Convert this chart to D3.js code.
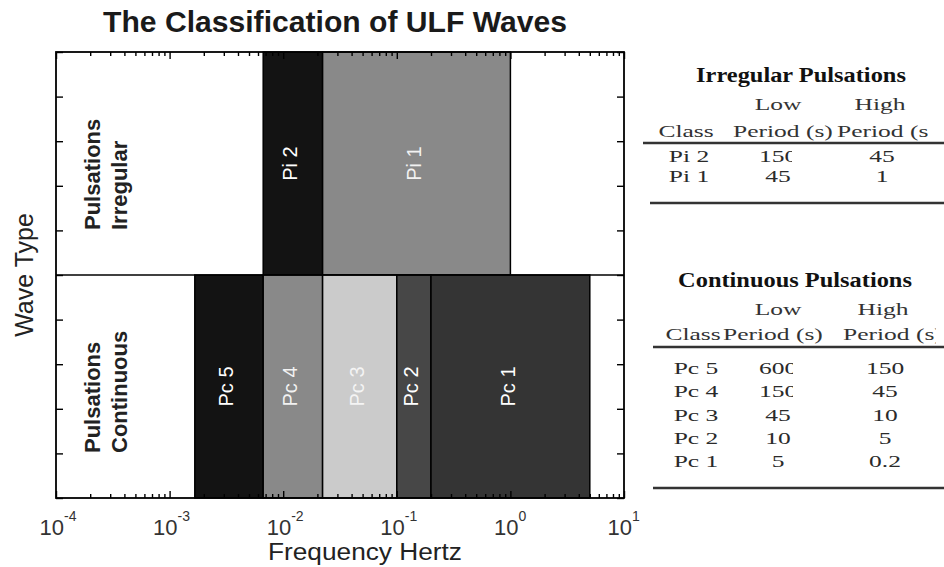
<!DOCTYPE html>
<html><head><meta charset="utf-8">
<script src="https://cdn.jsdelivr.net/npm/d3@7"></script>
<style>body{margin:0;background:#fff}svg{display:block}</style>
</head><body>
<svg id="c" width="944" height="567"></svg>
<script>
// ---------- data ----------
const irregularClasses = ["Pi 2", "Pi 1"];
const irregularLowPeriod = [150, 45];
const irregularHighPeriod = [45, 1];
const continuousClasses = ["Pc 5", "Pc 4", "Pc 3", "Pc 2", "Pc 1"];
const continuousLowPeriod = [600, 150, 45, 10, 5];
const continuousHighPeriod = [150, 45, 10, 5, 0.2];
const waveTypes = ["Continuous", "Irregular"];
const xTickExponents = [-4, -3, -2, -1, 0, 1];
const xDomain = [1e-4, 10];

// ---------- styles ----------
const classFill = d3.scaleOrdinal(
  ["Pi 2", "Pi 1", "Pc 5", "Pc 4", "Pc 3", "Pc 2", "Pc 1"],
  ["#131313", "#898989", "#131313", "#898989", "#cbcbcb", "#474747", "#343434"]);
const classLabel = d3.scaleOrdinal(
  ["Pi 2", "Pi 1", "Pc 5", "Pc 4", "Pc 3", "Pc 2", "Pc 1"],
  ["#ffffff", "#f2f2f2", "#ffffff", "#f2f2f2", "#f4f4f4", "#ffffff", "#ffffff"]);

const svg = d3.select("#c");
const SANS = "'Liberation Sans', Arial, sans-serif";
const SERIF = "'Liberation Serif', 'Times New Roman', serif";
const plot = {left: 56, right: 624, top: 52, bottom: 498};
const x = d3.scaleLog().domain(xDomain).range([plot.left, plot.right]);
const y = d3.scaleLinear().domain([0, 2]).range([plot.bottom, plot.top]);

const bars = [
  ...irregularClasses.map((c, i) => ({cls: c, band: 1, f0: 1 / irregularLowPeriod[i], f1: 1 / irregularHighPeriod[i]})),
  ...continuousClasses.map((c, i) => ({cls: c, band: 0, f0: 1 / continuousLowPeriod[i], f1: 1 / continuousHighPeriod[i]}))
];

svg.append("rect").attr("x", plot.left).attr("y", plot.top)
  .attr("width", plot.right - plot.left).attr("height", plot.bottom - plot.top).attr("fill", "#fff");

svg.append("g").selectAll("rect").data(bars).join("rect")
  .attr("x", d => x(d.f0)).attr("width", d => x(d.f1) - x(d.f0))
  .attr("y", d => y(d.band + 1)).attr("height", d => y(d.band) - y(d.band + 1))
  .attr("fill", d => classFill(d.cls)).attr("stroke", "#000").attr("stroke-width", 1.5);

svg.append("g").selectAll("text").data(bars).join("text")
  .attr("transform", d => `translate(${(x(d.f0) + x(d.f1)) / 2 - 3},${(y(d.band) + y(d.band + 1)) / 2}) rotate(-90)`)
  .attr("text-anchor", "middle").attr("dy", "0.36em")
  .attr("font-family", SANS).attr("font-size", 20).attr("fill", d => classLabel(d.cls))
  .text(d => d.cls);

// divider between bands
svg.append("line").attr("x1", plot.left).attr("x2", plot.right)
  .attr("y1", y(1)).attr("y2", y(1)).attr("stroke", "#000").attr("stroke-width", 1.5);

// band labels
const bandLabels = svg.append("g").selectAll("g").data(waveTypes).join("g")
  .attr("transform", (d, i) => `translate(0,${y(i) - 45})`);
bandLabels.append("text").attr("transform", "translate(100,0) rotate(-90)")
  .attr("font-family", SANS).attr("font-weight", "bold").attr("font-size", 22).attr("fill", "#222")
  .text("Pulsations");
bandLabels.append("text").attr("transform", "translate(127,0) rotate(-90)")
  .attr("font-family", SANS).attr("font-weight", "bold").attr("font-size", 22).attr("fill", "#222")
  .text(d => d);

// axes (inward ticks)
const major = xTickExponents.map(e => Math.pow(10, e));
const minor = [];
xTickExponents.slice(0, -1).forEach(e => { for (let k = 2; k <= 9; k++) minor.push(k * Math.pow(10, e)); });
function styleAxis(g) {
  g.select(".domain").remove();
  g.selectAll("line").attr("stroke", "#000").attr("stroke-width", 1.4);
}
svg.append("g").attr("transform", `translate(0,${plot.bottom})`)
  .call(d3.axisBottom(x).tickValues(major).tickSize(-7).tickFormat("")).call(styleAxis);
svg.append("g").attr("transform", `translate(0,${plot.bottom})`)
  .call(d3.axisBottom(x).tickValues(minor).tickSize(-4).tickFormat("")).call(styleAxis);
svg.append("g").attr("transform", `translate(0,${plot.top})`)
  .call(d3.axisTop(x).tickValues(major).tickSize(-7).tickFormat("")).call(styleAxis);
svg.append("g").attr("transform", `translate(0,${plot.top})`)
  .call(d3.axisTop(x).tickValues(minor).tickSize(-4).tickFormat("")).call(styleAxis);
svg.append("g").attr("transform", `translate(${plot.left},0)`)
  .call(d3.axisLeft(y).ticks(10).tickSize(-7).tickFormat("")).call(styleAxis);
svg.append("g").attr("transform", `translate(${plot.right},0)`)
  .call(d3.axisRight(y).ticks(10).tickSize(-7).tickFormat("")).call(styleAxis);

svg.append("rect").attr("x", plot.left).attr("y", plot.top)
  .attr("width", plot.right - plot.left).attr("height", plot.bottom - plot.top)
  .attr("fill", "none").attr("stroke", "#000").attr("stroke-width", 1.8);

// x tick labels 10^e
const tl = svg.append("g").selectAll("g").data(xTickExponents).join("g")
  .attr("transform", e => `translate(${x(Math.pow(10, e)) + 8},0)`);
tl.append("text").attr("y", 535).attr("text-anchor", "end")
  .attr("font-family", SANS).attr("font-size", 22).attr("fill", "#333").text("10");
tl.append("text").attr("y", 521).attr("text-anchor", "start")
  .attr("font-family", SANS).attr("font-size", 14).attr("fill", "#333").text(e => String(e));

// titles
svg.append("text").attr("x", 103).attr("y", 32)
  .attr("font-family", SANS).attr("font-weight", "bold").attr("font-size", 29).attr("fill", "#1a1a1a")
  .attr("textLength", 464).attr("lengthAdjust", "spacingAndGlyphs")
  .text("The Classification of ULF Waves");
svg.append("text").attr("x", 365).attr("y", 560).attr("text-anchor", "middle")
  .attr("font-family", SANS).attr("font-size", 23).attr("fill", "#222")
  .attr("textLength", 194).attr("lengthAdjust", "spacingAndGlyphs")
  .text("Frequency Hertz");
svg.append("text").attr("transform", `translate(33,${y(1)}) rotate(-90)`).attr("text-anchor", "middle")
  .attr("font-family", SANS).attr("font-size", 25).attr("fill", "#222")
  .text("Wave Type");

// ---------- tables ----------
const defs = svg.append("defs");
let clipId = 0;
function clipped(g, right) {
  const id = "clip" + (clipId++);
  defs.append("clipPath").attr("id", id).attr("clipPathUnits", "userSpaceOnUse")
    .append("rect").attr("x", 0).attr("y", 0).attr("width", right).attr("height", 567);
  return g.append("g").attr("clip-path", `url(#${id})`);
}
function stext(g, tx, ty, str, anchor, opts = {}) {
  return g.append("text")
    .attr("transform", `translate(${tx},${ty}) scale(${opts.sx || 1.5},1)`)
    .attr("text-anchor", anchor)
    .attr("font-family", SERIF).attr("font-size", opts.size || 17)
    .attr("font-weight", opts.bold ? "bold" : "normal")
    .attr("fill", opts.fill || "#2a2a2a").text(str);
}
function drawTable(t) {
  const g = svg.append("g");
  stext(g, t.titleX, t.titleY, t.title, "middle", {bold: true, size: 20, sx: 1.22, fill: "#111"});
  stext(g, t.lowX, t.headY, "Low", "middle", {fill: "#333"});
  stext(g, t.highX, t.headY, "High", "middle", {fill: "#333"});
  stext(g, t.classX, t.head2Y, "Class", "middle", {fill: "#333"});
  stext(clipped(g, t.periodLowClip), t.periodLowX, t.head2Y, "Period (s)", "start", {fill: "#333"});
  stext(clipped(g, t.periodHighClip), t.periodHighX, t.head2Y, "Period (s)", "start", {fill: "#333"});
  g.append("line").attr("x1", t.lineX).attr("x2", 944).attr("y1", t.line1Y).attr("y2", t.line1Y)
    .attr("stroke", "#333").attr("stroke-width", 2.4);
  g.append("line").attr("x1", t.lineX2).attr("x2", 944).attr("y1", t.line2Y).attr("y2", t.line2Y)
    .attr("stroke", "#333").attr("stroke-width", 2.4);
  const lowG = clipped(g, t.lowClip);
  t.classes.forEach((c, i) => {
    const ry = t.rowY0 + i * t.rowStep;
    stext(g, t.classX + 3, ry, c, "middle");
    stext(lowG, t.lowX, ry, String(t.low[i]), "middle");
    stext(g, t.highX + 2, ry, String(t.high[i]), "middle");
  });
}
drawTable({
  title: "Irregular Pulsations", titleX: 801, titleY: 82,
  lowX: 778, highX: 880, headY: 110, classX: 686, head2Y: 137,
  periodLowX: 733, periodLowClip: 833, periodHighX: 837, periodHighClip: 928,
  lineX: 643, line1Y: 143, lineX2: 650, line2Y: 203,
  classes: irregularClasses, low: irregularLowPeriod, high: irregularHighPeriod,
  lowClip: 792, rowY0: 162, rowStep: 19.5
});
drawTable({
  title: "Continuous Pulsations", titleX: 795, titleY: 287,
  lowX: 778, highX: 883, headY: 315, classX: 693, head2Y: 340,
  periodLowX: 723, periodLowClip: 823, periodHighX: 843, periodHighClip: 936,
  lineX: 653, line1Y: 347, lineX2: 653, line2Y: 488,
  classes: continuousClasses, low: continuousLowPeriod, high: continuousHighPeriod,
  lowClip: 793, rowY0: 374, rowStep: 23.3
});
</script>
</body></html>
